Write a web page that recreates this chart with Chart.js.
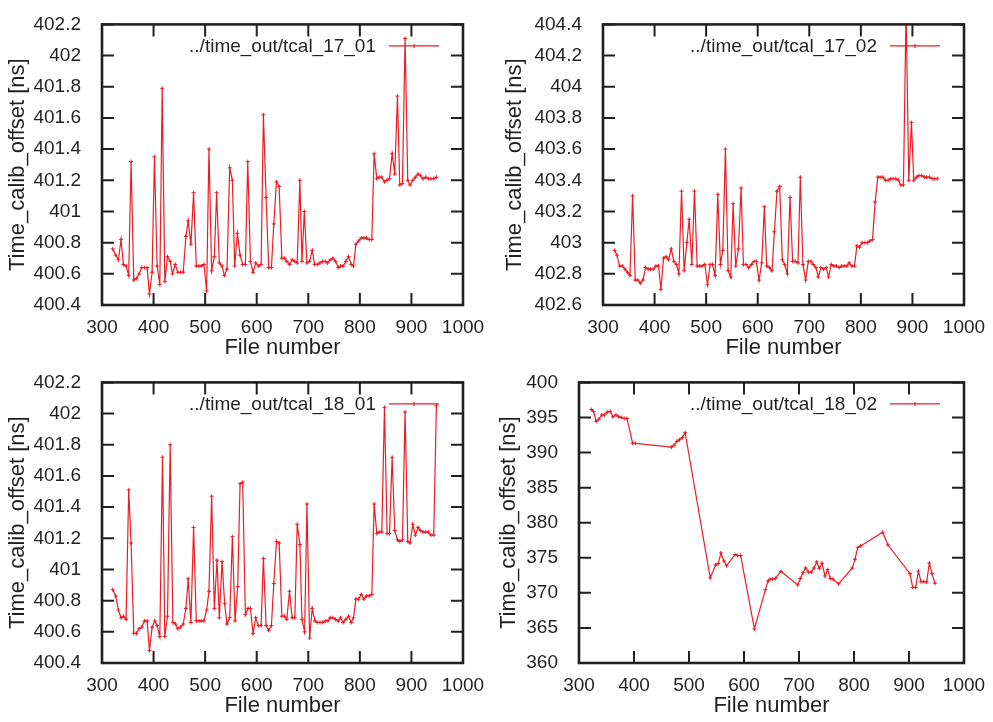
<!DOCTYPE html>
<html>
<head>
<meta charset="utf-8">
<script src="https://cdn.jsdelivr.net/npm/chart.js@4.4.1/dist/chart.umd.min.js"></script>
<style>
  html, body { margin: 0; padding: 0; background: #fff; }
  #wrap { position: relative; width: 993px; height: 722px; overflow: hidden; }
  canvas { position: absolute; }
</style>
</head>
<body>
<div id="wrap">
  <canvas id="c1701" width="496" height="361" style="left:0px;top:0px"></canvas>
  <canvas id="c1702" width="497" height="361" style="left:496px;top:0px"></canvas>
  <canvas id="c1801" width="496" height="361" style="left:0px;top:358px"></canvas>
  <canvas id="c1802" width="497" height="361" style="left:496px;top:358px"></canvas>
</div>
<script>
// values (file number, offset in ns)
const file1701 = [320.7,326.6,331.8,337.0,341.5,346.7,351.8,356.4,361.6,366.8,371.9,377.1,382.3,387.5,392.0,397.2,401.7,406.9,412.1,416.7,
  421.8,427.0,432.2,436.7,441.9,447.1,452.3,457.5,462.7,467.2,472.4,477.6,482.8,488.0,492.5,497.7,502.9,507.4,512.6,517.8,
  522.3,527.5,532.7,537.2,542.4,547.6,552.8,557.3,562.5,567.7,572.8,578.0,582.6,587.8,592.9,598.1,603.3,608.5,613.0,618.2,
  623.3,628.5,633.1,638.3,643.5,648.7,653.9,658.4,663.6,668.8,674.0,678.5,683.7,687.7,692.3,697.4,702.6,707.7,712.3,717.4,
  722.6,727.7,732.9,737.4,742.6,747.7,752.9,758.1,762.6,767.7,772.9,778.1,783.2,787.7,792.3,797.4,802.6,807.7,812.9,818.1,
  823.2,827.7,832.9,837.4,842.6,847.7,852.3,857.4,862.6,867.7,872.9,877.4,882.6,887.7,892.9,897.4,902.6,907.7,912.9,917.4,
  922.6,927.7,932.9,938.1,943.2,948.4];
const off1701 = [400.76,400.72,400.69,400.82,400.66,400.65,400.59,401.32,400.56,400.57,400.60,400.64,400.64,400.64,400.47,400.61,401.35,400.65,400.53,401.79,
  400.55,400.71,400.68,400.60,400.66,400.61,400.61,400.61,400.84,400.94,400.79,401.12,400.65,400.65,400.65,400.66,400.49,401.40,400.62,400.71,
  401.12,400.67,400.65,400.59,400.63,401.28,401.20,400.65,400.86,400.72,400.66,400.66,401.32,400.68,400.61,400.67,400.65,400.66,401.62,401.09,
  400.64,400.64,400.92,401.19,401.16,400.70,400.70,400.68,400.66,400.69,400.68,400.67,401.20,400.68,401.00,400.67,400.68,400.75,400.66,400.66,
  400.67,400.68,400.68,400.67,400.69,400.70,400.68,400.64,400.65,400.65,400.68,400.71,400.66,400.65,400.79,400.81,400.83,400.83,400.83,400.82,
  400.82,401.37,401.21,401.22,401.22,401.19,401.20,401.21,401.37,401.24,401.74,401.17,401.18,402.11,401.20,401.17,401.20,401.22,401.24,401.23,
  401.21,401.22,401.21,401.21,401.21,401.22];

const file1702 = [322.6,327.1,332.3,337.4,342.6,347.7,352.3,357.4,362.6,367.7,372.3,377.4,382.6,387.7,392.3,397.4,402.6,407.7,412.3,417.4,
  422.6,427.1,432.3,437.4,442.6,447.1,452.3,457.4,462.6,467.1,472.3,477.4,482.6,487.7,492.3,497.4,502.6,507.7,512.3,517.4,
  522.6,527.7,532.3,537.4,542.6,547.7,552.3,557.4,562.6,567.7,572.3,577.4,582.6,587.7,592.9,597.4,602.6,607.7,612.9,617.4,
  622.6,627.7,632.3,637.4,642.6,647.7,652.3,657.4,662.6,667.7,672.9,678.1,682.6,687.7,692.9,698.1,703.2,707.7,712.9,717.4,
  722.6,727.7,732.9,737.4,742.6,747.7,752.9,758.1,762.6,767.7,772.9,777.4,782.6,787.7,792.3,797.4,802.6,807.7,812.9,817.4,
  822.6,827.7,832.9,837.4,842.6,847.7,852.9,858.1,862.6,867.7,872.9,877.4,882.6,887.7,892.9,898.1,902.6,907.7,912.9,918.1,
  923.2,927.7,932.9,938.1,943.2,948.4];
const off1702 = [402.95,402.92,402.85,402.85,402.83,402.81,402.79,403.30,402.76,402.76,402.74,402.76,402.84,402.83,402.83,402.83,402.85,402.85,402.70,402.90,
  402.91,402.89,402.96,402.88,402.86,402.80,403.33,402.82,403.00,403.15,402.86,403.33,402.85,402.85,402.85,402.86,402.73,402.86,402.86,402.79,
  403.31,402.86,402.95,403.60,402.82,402.78,403.25,402.85,402.96,403.35,402.86,402.86,402.84,402.86,402.88,402.88,402.76,402.87,403.23,402.85,
  402.84,402.82,403.07,403.33,403.36,402.89,402.86,402.80,403.29,402.88,402.88,402.87,403.42,402.86,402.76,402.88,402.88,402.86,402.84,402.78,
  402.84,402.83,402.84,402.78,402.86,402.85,402.85,402.84,402.85,402.85,402.85,402.87,402.85,402.85,402.98,402.97,403.00,403.00,403.00,403.01,
  403.02,403.26,403.42,403.42,403.42,403.40,403.40,403.41,403.41,403.41,403.40,403.37,403.37,404.50,403.40,403.77,403.40,403.42,403.43,403.43,
  403.42,403.42,403.42,403.41,403.41,403.41];

const file1801 = [320.7,326.6,331.8,337.0,341.5,346.7,351.8,356.4,361.6,366.8,371.9,377.1,382.3,387.5,392.0,397.2,402.4,406.9,412.1,417.3,
  421.8,427.0,432.2,437.4,442.6,447.1,452.3,457.5,462.7,467.2,472.4,477.6,482.8,488.0,492.5,497.7,502.9,507.4,512.6,517.8,
  523.0,527.5,532.7,537.9,542.4,547.6,552.8,558.0,563.1,567.7,572.8,578.0,583.2,587.8,592.9,598.1,603.3,608.5,613.0,618.2,
  623.3,628.5,633.1,638.3,643.5,648.7,653.9,658.4,663.6,668.8,674.0,678.5,683.7,687.7,692.9,697.4,702.6,707.7,712.9,717.4,
  722.6,727.7,732.9,738.1,742.6,747.7,752.9,758.1,762.6,767.7,772.9,778.1,783.2,787.7,792.3,797.4,802.6,807.7,812.9,818.1,
  823.2,827.7,832.9,837.4,842.6,847.7,852.9,857.4,862.6,867.7,872.9,877.4,882.6,887.7,892.9,897.4,902.6,907.7,912.9,917.4,
  922.6,927.7,932.9,938.1,943.2,948.4];
const off1801 = [400.87,400.83,400.74,400.69,400.70,400.68,401.51,401.17,400.59,400.59,400.62,400.63,400.67,400.67,400.48,400.63,400.67,400.64,400.57,401.72,
  400.57,400.70,401.80,400.66,400.65,400.62,400.63,400.65,400.75,400.94,400.66,401.27,400.67,400.67,400.67,400.67,400.74,400.86,401.47,400.75,
  401.06,400.69,401.05,400.78,400.65,400.69,401.21,400.67,400.89,401.55,401.56,400.71,400.75,400.75,400.59,400.69,400.64,400.64,401.07,400.64,
  400.61,400.64,400.91,401.18,401.17,400.70,400.70,400.68,400.86,400.69,400.69,401.29,401.16,400.68,400.60,401.42,400.56,400.75,400.67,400.66,
  400.66,400.66,400.67,400.67,400.69,400.69,400.68,400.67,400.69,400.66,400.68,400.70,400.66,400.69,400.81,400.81,400.84,400.81,400.83,400.83,
  400.84,401.42,401.23,401.24,401.24,402.04,401.23,401.23,401.72,401.25,401.19,401.18,401.19,402.01,401.18,401.17,401.29,401.22,401.27,401.25,
  401.24,401.24,401.24,401.22,401.22,402.05];

const file1802 = [322.2,326.4,331.3,336.2,341.6,346.5,351.4,356.8,361.7,367.2,372.0,376.9,382.4,387.2,397.6,402.4,468.1,472.9,477.8,482.7,
  488.1,493.0,538.6,548.3,553.2,558.0,563.5,568.4,583.6,588.5,593.9,618.9,638.9,643.8,647.3,652.1,657.0,667.3,697.6,702.4,
  707.3,712.1,717.0,722.4,727.3,732.1,737.0,741.8,747.3,752.1,757.0,761.8,772.1,797.0,801.8,806.7,812.1,852.1,861.8,901.8,
  906.7,912.1,917.0,921.8,926.7,932.1,937.0,941.8,947.3];
const off1802 = [396.14,395.86,394.45,394.77,395.36,395.36,395.77,395.86,395.09,395.36,395.14,395.00,394.86,394.86,391.32,391.32,390.77,391.05,391.59,391.82,
  392.14,392.82,372.14,373.95,374.18,375.68,374.55,373.86,375.45,375.32,375.32,364.86,370.45,371.68,371.95,371.95,372.05,373.05,371.14,372.05,
  372.86,373.55,372.95,372.95,373.55,374.41,373.50,374.23,372.41,373.32,372.05,371.95,371.27,373.55,374.77,376.45,376.68,378.64,376.82,372.73,
  370.77,370.77,373.09,371.59,371.59,371.55,374.23,372.73,371.36];

const INK = '#231f20';
const RED = '#ec1c24';
const FONT = "'Liberation Sans', Arial, sans-serif";

Chart.defaults.font.family = FONT;
Chart.defaults.color = INK;

// gnuplot style frame with inward ticks on all four sides
const frameTicks = {
  id: 'frameTicks',
  afterDraw(chart) {
    const { ctx, chartArea: a, scales: { x, y } } = chart;
    const len = 12;
    ctx.save();
    ctx.strokeStyle = INK;
    ctx.lineWidth = 2;
    ctx.beginPath();
    x.ticks.forEach(t => {
      const px = x.getPixelForValue(t.value);
      ctx.moveTo(px, a.bottom); ctx.lineTo(px, a.bottom - len);
      ctx.moveTo(px, a.top); ctx.lineTo(px, a.top + len);
    });
    y.ticks.forEach(t => {
      const py = y.getPixelForValue(t.value);
      ctx.moveTo(a.left, py); ctx.lineTo(a.left + len, py);
      ctx.moveTo(a.right, py); ctx.lineTo(a.right - len, py);
    });
    ctx.stroke();
    ctx.lineWidth = 2.6;
    ctx.strokeRect(a.left, a.top, a.right - a.left, a.bottom - a.top);
    ctx.restore();
  }
};

// key in the top right corner, like gnuplot
const cornerKey = {
  id: 'cornerKey',
  afterDraw(chart) {
    const { ctx, chartArea: a } = chart;
    const ds = chart.data.datasets[0];
    const yy = a.top + 21.5;
    ctx.save();
    ctx.font = '19px ' + FONT;
    ctx.fillStyle = INK;
    ctx.textAlign = 'right';
    ctx.textBaseline = 'middle';
    ctx.fillText(ds.label, a.right - 87, yy + 1);
    ctx.strokeStyle = RED;
    ctx.lineWidth = 1.2;
    ctx.beginPath();
    ctx.moveTo(a.right - 74, yy); ctx.lineTo(a.right - 24, yy);
    const mx = a.right - 49;
    ctx.moveTo(mx - 2, yy); ctx.lineTo(mx + 2, yy);
    ctx.moveTo(mx, yy - 2); ctx.lineTo(mx, yy + 2);
    ctx.stroke();
    ctx.restore();
  }
};

function makePanel(id, label, xs, ys, yMin, yMax, yStep, yLeft, rightPad, yTitlePad) {
  const pts = xs.map((v, i) => ({ x: v, y: ys[i] }));
  const canvas = document.getElementById(id);
  new Chart(canvas, {
    type: 'line',
    data: {
      datasets: [{
        label: label,
        data: pts,
        borderColor: RED,
        backgroundColor: RED,
        borderWidth: 1.2,
        pointStyle: 'cross',
        pointRadius: 2,
        pointBorderWidth: 1,
        tension: 0,
        fill: false
      }]
    },
    options: {
      responsive: false,
      animation: false,
      devicePixelRatio: 1,
      layout: {
        padding: { left: 0, top: 11.7, right: rightPad, bottom: 0 }
      },
      plugins: {
        legend: { display: false },
        tooltip: { enabled: false }
      },
      scales: {
        x: {
          type: 'linear',
          min: 300,
          max: 1000,
          grid: { display: false },
          border: { display: false },
          ticks: {
            stepSize: 100,
            padding: 3,
            font: { size: 19 },
            color: INK,
            maxRotation: 0,
            callback: v => String(v)
          },
          title: {
            display: true,
            text: 'File number',
            font: { size: 22 },
            color: INK,
            padding: { top: 0, bottom: 0 }
          },
          afterFit: s => { s.height = 56; }
        },
        y: {
          type: 'linear',
          min: yMin,
          max: yMax,
          grid: { display: false },
          border: { display: false },
          ticks: {
            stepSize: yStep,
            padding: 13,
            font: { size: 19 },
            color: INK,
            callback: v => String(+v.toFixed(1))
          },
          title: {
            display: true,
            text: 'Time_calib_offset [ns]',
            font: { size: 22 },
            color: INK,
            padding: { top: yTitlePad, bottom: 0 }
          },
          afterFit: s => { s.width = yLeft; }
        }
      }
    },
    plugins: [frameTicks, cornerKey]
  });
}

makePanel('c1701', '../time_out/tcal_17_01', file1701, off1701, 400.4, 402.2, 0.2, 102, 33, 5);
makePanel('c1702', '../time_out/tcal_17_02', file1702, off1702, 402.6, 404.4, 0.2, 107, 29, 6);
makePanel('c1801', '../time_out/tcal_18_01', file1801, off1801, 400.4, 402.2, 0.2, 102, 33, 5);
makePanel('c1802', '../time_out/tcal_18_02', file1802, off1802, 360, 400, 5, 83, 29, 0);
</script>
</body>
</html>
